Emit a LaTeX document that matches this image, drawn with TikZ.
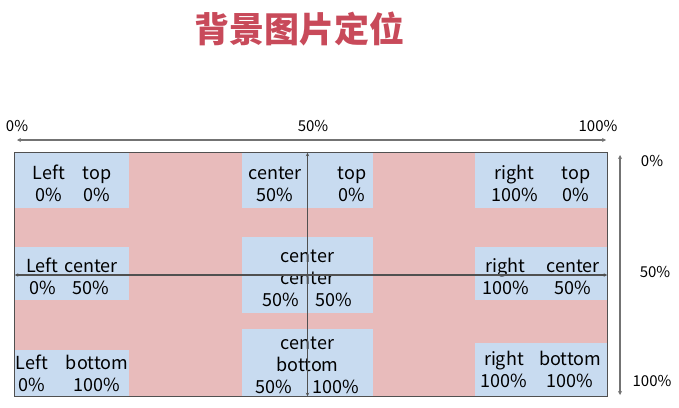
\documentclass[tikz,border=0pt]{standalone}
\usepackage{fontspec}
\setmainfont{Noto Sans CJK SC}
\usepackage{xcolor}
\definecolor{bgpink}{RGB}{232,187,187}
\definecolor{posblue}{RGB}{200,219,240}
\definecolor{titlered}{RGB}{200,74,90}
\definecolor{axisgray}{RGB}{115,115,115}
\definecolor{linegray}{RGB}{80,80,80}
\usetikzlibrary{arrows.meta,positioning}
\newlength{\posdrop}
\setlength{\posdrop}{10pt}
\tikzset{
  posbox/.style={fill=posblue,inner sep=0pt,align=center,
                 font=\fontsize{18}{22}\selectfont},
  lowrow/.style={execute at begin node={\setlength{\posdrop}{7pt}}},
  axislbl/.style={inner sep=0pt,font=\fontsize{15}{18}\selectfont},
  axisline/.style={axisgray,line width=1.2pt,
                   {Stealth[length=4pt,width=4pt]}-{Stealth[length=4pt,width=4pt]}},
  crossline/.style={linegray,line width=1.2pt,
                    {Stealth[length=3.5pt,width=3.5pt]}-{Stealth[length=3.5pt,width=3.5pt]}}
}
\newcommand{\postext}[5][18pt]{\raisebox{-\posdrop}[0pt][0pt]{\begin{tabular}{@{}c@{\hspace{#1}}c@{}}#2 & #3\\#4 & #5\end{tabular}}}
\newcommand{\posthree}[5][18pt]{\raisebox{-9pt}[0pt][0pt]{\begin{tabular}{@{}c@{\hspace{#1}}c@{}}\multicolumn{2}{c}{#2}\\\multicolumn{2}{c}{#3}\\#4 & #5\end{tabular}}}

\begin{document}
\begin{tikzpicture}[x=1pt,y=-1pt]
  \useasboundingbox (0,0) rectangle (679,407);

  \node[font=\fontsize{35}{40}\selectfont\bfseries,text=titlered] (title) at (299,29) {背景图片定位};

  \node[axislbl] (x0) at (17,126) {0\%};
  \node[axislbl] (x50) at (313,126) {50\%};
  \node[axislbl] (x100) at (598,126) {100\%};
  \coordinate (xa) at (17,140);
  \coordinate (xb) at (606,140);
  \draw[axisline] (xa) -- (xb);

  \node[fill=bgpink,minimum width=592pt,minimum height=243pt,inner sep=0pt] (frame) at (311,274.5) {};

  \node[posbox,minimum width=114pt,minimum height=55pt] (lt) at (72,180.5) {\postext{Left}{top}{0\%}{0\%}};
  \node[posbox,minimum width=131pt,minimum height=55pt] (ct) at (307.5,180.5) {\postext[36pt]{center}{top}{50\%}{0\%}};
  \node[posbox,minimum width=132pt,minimum height=55pt] (rt) at (541,180.5) {\postext[24pt]{right}{top}{100\%}{0\%}};

  \node[posbox,minimum width=114pt,minimum height=53pt] (lc) at (72,273.5) {\postext[6pt]{Left}{center}{0\%}{50\%}};
  \node[posbox,minimum width=131pt,minimum height=76pt] (cc) at (307.5,275) {\posthree[17pt]{center}{center}{50\%}{50\%}};
  \node[posbox,minimum width=132pt,minimum height=53pt] (rc) at (541,273.5) {\postext{right}{center}{100\%}{50\%}};

  \node[posbox,lowrow,minimum width=114pt,minimum height=46pt] (lb) at (72,373) {\postext{Left}{bottom}{0\%}{100\%}};
  \node[posbox,minimum width=131pt,minimum height=67pt] (cb) at (307.5,362.5) {\posthree[20pt]{center}{bottom}{50\%}{100\%}};
  \node[posbox,lowrow,minimum width=132pt,minimum height=53pt] (rb) at (541,369.5) {\postext[12pt]{right}{bottom}{100\%}{100\%}};

  \draw[linegray,line width=1pt] (frame.south west) rectangle (frame.north east);
  \draw[crossline] (frame.west |- cc.center) -- (frame.east |- cc.center);
  \draw[crossline] (cc.center |- frame.north) -- (cc.center |- frame.south);

  \coordinate (ya) at (620,155);
  \coordinate (yb) at (620,395);
  \draw[axisline] (ya) -- (yb);
  \node[axislbl] (y0) at (652,161) {0\%};
  \node[axislbl] (y50) at (655,272) {50\%};
  \node[axislbl] (y100) at (652,381) {100\%};
\end{tikzpicture}
\end{document}
